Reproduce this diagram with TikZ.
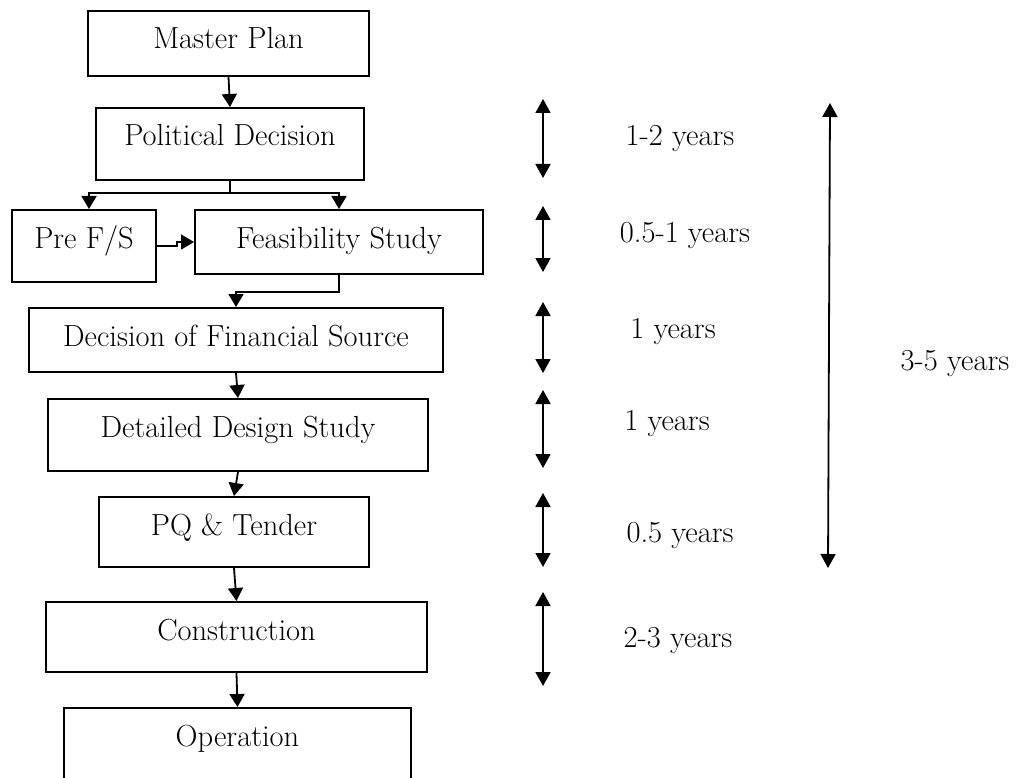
\documentclass[tikz,border=0pt]{standalone}
\usetikzlibrary{arrows.meta}

\begin{document}
\begin{tikzpicture}[x=1pt, y=-1pt,
    every node/.style={font=\fontsize{30.5}{36}\selectfont},
    stage/.style={draw, line width=2pt, anchor=north, inner sep=0pt, text height=24pt},
    flow/.style={line width=1.8pt, -{Triangle[length=13pt, width=15pt]}},
    span/.style={line width=1.8pt, {Triangle[length=14pt, width=15pt]}-{Triangle[length=14pt, width=15pt]}}]
    \clip (0, 0) rectangle (1017, 778);

    \node[stage, minimum width=281pt, minimum height=65pt, text depth=13pt] (master) at (228.5, 10) {Master Plan};
    \node[stage, minimum width=268pt, minimum height=72pt, text depth=20pt] (political) at (230, 107) {Political Decision};
    \node[stage, minimum width=144pt, minimum height=72pt, text depth=20pt] (pre) at (84, 209) {Pre F/S};
    \node[stage, minimum width=288pt, minimum height=64pt, text depth=12pt] (feas) at (339, 209) {Feasibility Study};
    \node[stage, minimum width=414pt, minimum height=64pt, text depth=12pt] (finance) at (236, 307) {Decision of Financial Source};
    \node[stage, minimum width=380pt, minimum height=72pt, text depth=20pt] (design) at (238, 398) {Detailed Design Study};
    \node[stage, minimum width=270pt, minimum height=70pt, text depth=18pt] (tender) at (234, 496) {PQ \& Tender};
    \node[stage, minimum width=381pt, minimum height=70pt, text depth=18pt] (construct) at (236.5, 601) {Construction};
    \node[stage, minimum width=347pt, minimum height=90pt, text depth=38pt] (operation) at (237.5, 707) {Operation};

    \draw[flow] (master.south) -- (political.north);
    \coordinate (fork) at (230, 193);
    \draw[line width=1.8pt] (political.south) -- (fork);
    \draw[flow] (fork) -| ([xshift=5pt]pre.north);
    \draw[flow] (fork) -| (feas.north);
    \draw[flow] (pre.east) -- ++(20, 0) |- (feas.west);
    \draw[flow] (feas.south) -- ++(0, 17) -| (finance.north);
    \draw[flow] (finance.south) -- (design.north);
    \draw[flow] (design.south) -- (tender.north);
    \draw[flow] (tender.south) -- (construct.north);
    \draw[flow] (construct.south) -- (operation.north);

    \foreach \top/\bot/\lx/\ly/\txt [count=\i] in {99/178/680/146/1-2 years,
        206/272/685/242/0.5-1 years, 302/373/673/338/1 years,
        390/468/667/430/1 years, 493/567/680/542/0.5 years,
        592/686/678/647/2-3 years} {
      \coordinate (up\i) at (543, \top);
      \coordinate (down\i) at (543, \bot);
      \draw[span] (up\i) -- (down\i);
      \node[anchor=base] (time\i) at (\lx, \ly) {\txt};
    }

    \coordinate (total up) at (830, 103);
    \coordinate (total down) at (828, 568);
    \draw[span] (total up) -- (total down);
    \node[anchor=base] (total) at (955, 370) {3-5 years};
\end{tikzpicture}
\end{document}
